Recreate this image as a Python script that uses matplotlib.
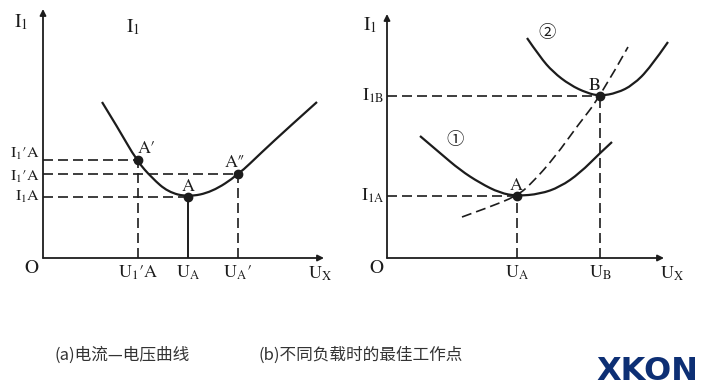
import matplotlib.pyplot as plt
from matplotlib.path import Path
from matplotlib.patches import PathPatch

plt.rcParams['mathtext.fontset'] = 'stix'
plt.rcParams['font.family'] = ['STIXGeneral', 'Liberation Serif', 'DejaVu Serif']

W, H = 710, 387
INK = '#1c1c1c'

# left panel: current-voltage curve (units = picture pixels from origin)
left_curve_x = [59, 75, 94, 109, 125, 145, 169, 195, 219, 245, 274]
left_curve_y = [156, 130, 97, 80, 66, 61, 66, 83, 106, 130, 156]
left_pts_x = [95, 145, 195]          # A', A, A''
left_pts_y = [98, 61, 84]
left_pt_labels = ['A′', 'A', 'A″']
left_ytick_labels = [r'$\mathrm{I}_1$′A', r'$\mathrm{I}_1$A', r'$\mathrm{I}_1$′A']
left_xtick_labels = [r'$\mathrm{U}_1$′A', r'$\mathrm{U}_\mathrm{A}$', r'$\mathrm{U}_\mathrm{A}$′']

# right panel: best operating points for different loads
c1_x = [33, 53, 73, 93, 113, 130, 153, 173, 193, 213, 225]
c1_y = [122, 105, 88, 75, 65, 62, 64, 71, 85, 105, 116]
c2_x = [140, 153, 166, 183, 200, 213, 230, 246, 263, 281]
c2_y = [220, 201, 186, 173, 165, 162, 165, 173, 190, 216]
dash_x = [75, 100, 130, 145, 168, 191, 213, 241]
dash_y = [41, 50, 62, 75, 101, 133, 161, 211]
right_pts_x = [130, 213]             # A, B
right_pts_y = [62, 162]
right_ytick_labels = [r'$\mathrm{I}_\mathrm{1A}$', r'$\mathrm{I}_\mathrm{1B}$']
right_xtick_labels = [r'$\mathrm{U}_\mathrm{A}$', r'$\mathrm{U}_\mathrm{B}$']

captions = ['(a)电流—电压曲线', '(b)不同负载时的最佳工作点']

fig = plt.figure(figsize=(W / 100, H / 100), dpi=100)
fig.patch.set_facecolor('white')


def panel(ox, oy):
    ax = fig.add_axes([ox / W, (H - oy) / H, 300 / W, 250 / H])
    ax.set_xlim(0, 300)
    ax.set_ylim(0, 250)
    ax.axis('off')
    return ax


def axes_lines(ax, xend, yend):
    arr = dict(arrowstyle='-|>', lw=1.3, color=INK, mutation_scale=9, shrinkA=0, shrinkB=0)
    ax.annotate('', xy=(xend, 0), xytext=(0, 0), arrowprops=arr, annotation_clip=False)
    ax.annotate('', xy=(0, yend), xytext=(0, 0), arrowprops=arr, annotation_clip=False)


def smooth(ax, xs, ys, **kw):
    # quadratic bezier through midpoints, read points act as control points
    pts = list(zip(xs, ys))
    verts = [pts[0]]
    codes = [Path.MOVETO]
    for i in range(1, len(pts) - 1):
        mid = ((pts[i][0] + pts[i + 1][0]) / 2, (pts[i][1] + pts[i + 1][1]) / 2)
        if i == len(pts) - 2:
            mid = pts[-1]
        verts += [pts[i], mid]
        codes += [Path.CURVE3, Path.CURVE3]
    ax.add_patch(PathPatch(Path(verts, codes), fill=False, edgecolor=INK, **kw))


dash = dict(color=INK, lw=1.2, dashes=(6, 3), clip_on=False)
fs = 13

# ---- (a) ----
ax1 = panel(43, 258)
axes_lines(ax1, 281, 249)
smooth(ax1, left_curve_x, left_curve_y, lw=1.6)
for (x, y) in zip(left_pts_x, left_pts_y):
    ax1.plot([0, x], [y, y], **dash)
for x, y in [(left_pts_x[0], left_pts_y[0]), (left_pts_x[2], left_pts_y[2])]:
    ax1.plot([x, x], [0, y], **dash)
ax1.plot([left_pts_x[1]] * 2, [0, left_pts_y[1]], color=INK, lw=1.4)
ax1.plot(left_pts_x, left_pts_y, 'o', color=INK, ms=6)
offs = [(9, 11), (0, 10), (-3, 11)]
for lab, x, y, (dx, dy) in zip(left_pt_labels, left_pts_x, left_pts_y, offs):
    ax1.text(x + dx, y + dy, lab, fontsize=fs, color=INK, ha='center', va='center')
for lab, y, dy in zip(left_ytick_labels, left_pts_y, [6, 0, -3]):
    ax1.text(-3, y + dy, lab, fontsize=11.5, color=INK, ha='right', va='center')
for lab, x in zip(left_xtick_labels, left_pts_x):
    ax1.text(x, -6, lab, fontsize=fs, color=INK, ha='center', va='top')
ax1.text(-5, -2, 'O', fontsize=fs + 1, color=INK, ha='right', va='top')
ax1.text(277, -7, r'$\mathrm{U}_\mathrm{X}$', fontsize=fs, color=INK, ha='center', va='top')
ax1.text(-22, 236, r'$\mathrm{I}_1$', fontsize=fs + 1, color=INK, ha='center', va='center')
ax1.text(90, 231, r'$\mathrm{I}_1$', fontsize=fs + 1, color=INK, ha='center', va='center')

# ---- (b) ----
ax2 = panel(387, 258)
axes_lines(ax2, 277, 244)
smooth(ax2, c1_x, c1_y, lw=1.6)
smooth(ax2, c2_x, c2_y, lw=1.6)
smooth(ax2, dash_x, dash_y, lw=1.2, linestyle=(0, (6, 3)))
for x, y in zip(right_pts_x, right_pts_y):
    ax2.plot([0, x], [y, y], **dash)
    ax2.plot([x, x], [0, y], **dash)
ax2.plot(right_pts_x, right_pts_y, 'o', color=INK, ms=6)
for lab, y in zip(right_ytick_labels, right_pts_y):
    ax2.text(-3, y, lab, fontsize=fs, color=INK, ha='right', va='center')
for lab, x in zip(right_xtick_labels, right_pts_x):
    ax2.text(x, -6, lab, fontsize=fs, color=INK, ha='center', va='top')
ax2.text(-4, -2, 'O', fontsize=fs + 1, color=INK, ha='right', va='top')
ax2.text(285, -7, r'$\mathrm{U}_\mathrm{X}$', fontsize=fs, color=INK, ha='center', va='top')
ax2.text(-17, 233, r'$\mathrm{I}_1$', fontsize=fs + 1, color=INK, ha='center', va='center')
ax2.text(129, 72, 'A', fontsize=fs, color=INK, ha='center', va='center')
ax2.text(208, 172, 'B', fontsize=fs, color=INK, ha='center', va='center')
ax2.text(68, 118, '①', fontsize=12.5, color=INK, ha='center', va='center',
         family=['Noto Sans CJK SC', 'DejaVu Sans'])
ax2.text(160, 225, '②', fontsize=12.5, color=INK, ha='center', va='center',
         family=['Noto Sans CJK SC', 'DejaVu Sans'])

# captions
for cx, cap in zip([55, 258], captions):
    fig.text(cx / W, 1 - 355 / H, cap, fontsize=12, color='#333333', ha='left', va='center',
             family=['Noto Sans CJK SC', 'DejaVu Sans'])

# watermark logo
fig.text(596 / W, 1 - 371 / H, 'XKON', fontsize=23, color='#0d2f74', ha='left', va='center',
         fontweight='bold', family=['Liberation Sans Narrow', 'DejaVu Sans'])

fig.savefig('out.png', dpi=100, facecolor='white')
